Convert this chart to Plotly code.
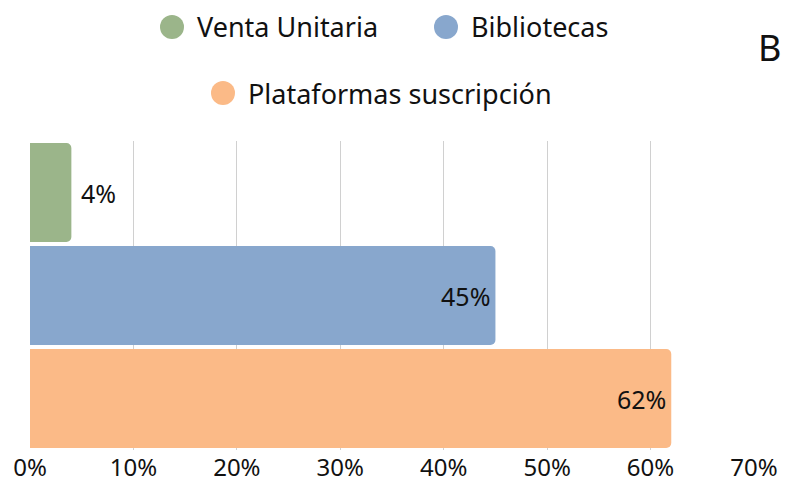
import plotly.graph_objects as go

categories = ["Venta Unitaria", "Bibliotecas", "Plataformas suscripción"]
values = [4, 45, 62]
colors = ["#9BB58A", "#88A7CD", "#FBBA87"]
tick_vals = [0, 10, 20, 30, 40, 50, 60, 70]
tick_text = ["0%", "10%", "20%", "30%", "40%", "50%", "60%", "70%"]

FONT = "Noto Sans"
FS = 25
TXT = "#111111"
W, H = 785, 484
L, R, T, B = 30, 31, 141, 34
PW, PH = W - L - R, H - T - B

def px_x(px):
    return (px - L) / PW

def px_y(py):
    return (H - B - py) / PH

fig = go.Figure()
for cat, val, col in zip(categories, values, colors):
    outside = val < 10
    fig.add_trace(go.Bar(
        y=[cat], x=[val], orientation="h", name=cat,
        marker=dict(color=col, line=dict(width=0)),
        text=[("\u00a0" if outside else "") + f"{val}%"],
        textposition="outside" if outside else "inside",
        insidetextanchor="end",
        textfont=dict(family=FONT, size=FS, color=TXT),
        outsidetextfont=dict(family=FONT, size=FS, color=TXT),
        insidetextfont=dict(family=FONT, size=FS, color=TXT),
        showlegend=False, cliponaxis=False,
    ))

# manual legend (circle symbols + labels)
legend_pos = [(172, 27), (446, 27), (223, 93)]
shapes = []
annotations = []
for cat, col, (cx, cy) in zip(categories, colors, legend_pos):
    shapes.append(dict(
        type="circle", xref="paper", yref="paper",
        xsizemode="pixel", ysizemode="pixel",
        xanchor=px_x(cx), yanchor=px_y(cy),
        x0=-12, x1=12, y0=-12, y1=12,
        fillcolor=col, line=dict(width=0),
    ))
    annotations.append(dict(
        text=cat, xref="paper", yref="paper",
        x=px_x(cx + 23), y=px_y(cy), xanchor="left", yanchor="middle",
        showarrow=False, font=dict(family=FONT, size=27, color=TXT),
    ))

annotations.append(dict(
    text="B", xref="paper", yref="paper",
    x=px_x(756), y=px_y(47), xanchor="left", yanchor="middle",
    showarrow=False, font=dict(family=FONT, size=36, color=TXT),
))

fig.update_layout(
    width=W, height=H,
    margin=dict(l=L, r=R, t=T, b=B, autoexpand=False),
    paper_bgcolor="white", plot_bgcolor="white",
    barmode="overlay", bargap=0.04, barcornerradius=5,
    showlegend=False,
    shapes=shapes, annotations=annotations,
    font=dict(family=FONT, size=FS, color=TXT),
)
fig.update_xaxes(
    range=[0, 70], tickvals=tick_vals, ticktext=tick_text,
    showgrid=True, gridcolor="#D0D0D0", gridwidth=1,
    zeroline=False, showline=False, ticks="", automargin=False,
    ticklabelstandoff=1,
    tickfont=dict(family=FONT, size=24, color=TXT),
)
fig.update_yaxes(
    categoryorder="array", categoryarray=categories, autorange="reversed",
    showticklabels=False, showgrid=False, zeroline=False, showline=False, ticks="",
    automargin=False,
)

fig.write_html(
    "out.html",
    config={"displayModeBar": False},
    post_script="document.body.style.margin='0';document.body.style.overflow='hidden';",
)
